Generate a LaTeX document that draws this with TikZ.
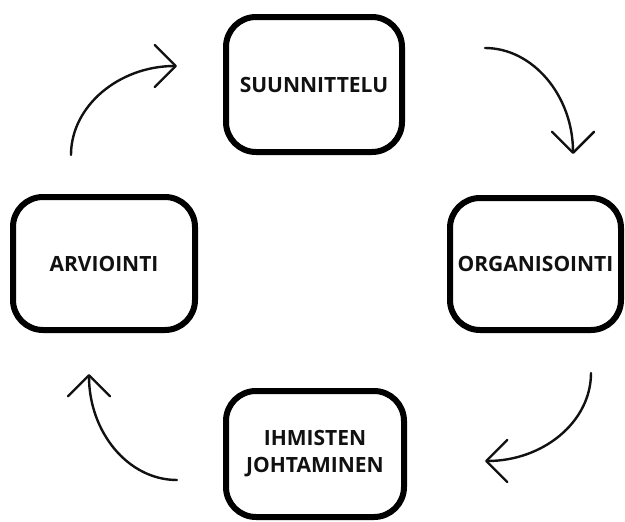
\documentclass[tikz,border=0pt]{standalone}
\usepackage{fontspec}
\setmainfont{Open Sans}
\usetikzlibrary{arrows.meta}
\definecolor{ink}{HTML}{111111}
\tikzset{
  phase/.style={draw=black, line width=6pt, rounded corners=30pt, inner sep=0pt, outer sep=0pt,
    align=center, font=\bfseries\fontsize{21}{27}\selectfont, text=ink},
  cyclearrow/.style={line width=2.4pt, draw=ink, line cap=round,
    -{Straight Barb[length=21pt, width=42pt, line width=2.4pt, round]}}
}
\begin{document}
\begin{tikzpicture}[x=1pt, y=-1pt]
  \useasboundingbox (0,0) rectangle (625,522);
  % the four phases of the management cycle
  \node[phase, minimum width=176pt, minimum height=135pt] (plan) at (314,84.5) {SUUNNITTELU};
  \node[phase, minimum width=171pt, minimum height=132pt] (org) at (535.5,264) {ORGANISOINTI};
  \node[phase, minimum width=178pt, minimum height=126pt] (lead) at (315,454) {IHMISTEN\\JOHTAMINEN};
  \node[phase, minimum width=182pt, minimum height=133pt] (eval) at (104,263.5) {ARVIOINTI};
  % loose ends of the curved arrows between the phases
  \coordinate (a1s) at (71,155);  \coordinate (a1e) at (177,66);
  \coordinate (a2s) at (485,48);  \coordinate (a2e) at (573,154);
  \coordinate (a3s) at (591,373); \coordinate (a3e) at (485,461);
  \coordinate (a4s) at (177,480); \coordinate (a4e) at (89,374);
  \draw[cyclearrow] (a1s) .. controls (71,106) and (119,66) .. (a1e);
  \draw[cyclearrow] (a2s) .. controls (533,48) and (573,96) .. (a2e);
  \draw[cyclearrow] (a3s) .. controls (591,422) and (543,461) .. (a3e);
  \draw[cyclearrow] (a4s) .. controls (128,480) and (89,432) .. (a4e);
\end{tikzpicture}
\end{document}
